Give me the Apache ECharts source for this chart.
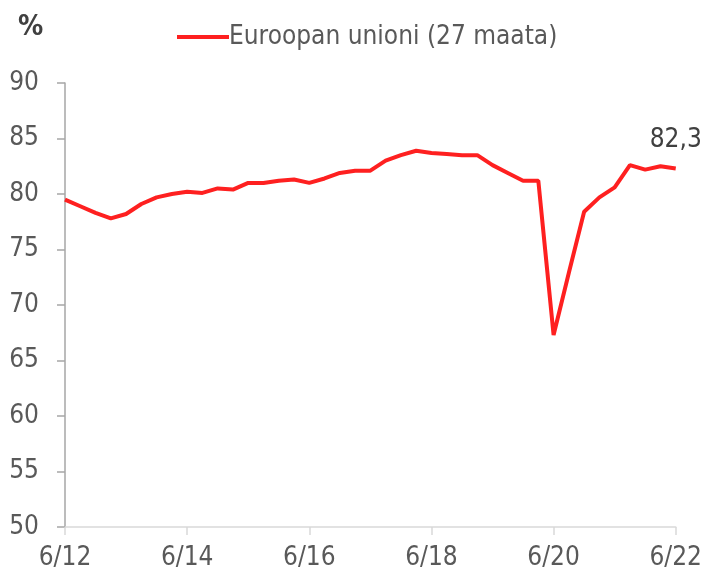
<!DOCTYPE html>
<html>
<head>
<meta charset="utf-8">
<script src="https://cdn.jsdelivr.net/npm/echarts@6/dist/echarts.min.js"></script>
<style>html,body{margin:0;padding:0;background:#fff}#c{width:705px;height:575px}</style>
</head>
<body>
<div id="c"></div>
<script>
var categories = [
 '6/12','9/12','12/12','3/13','6/13','9/13','12/13','3/14','6/14','9/14','12/14',
 '3/15','6/15','9/15','12/15','3/16','6/16','9/16','12/16','3/17','6/17','9/17','12/17',
 '3/18','6/18','9/18','12/18','3/19','6/19','9/19','12/19','3/20','6/20','9/20','12/20',
 '3/21','6/21','9/21','12/21','3/22','6/22'
];
var euValues = [
 79.5,78.9,78.3,77.8,78.2,79.1,79.7,80.0,80.2,80.1,80.5,
 80.4,81.0,81.0,81.2,81.3,81.0,81.4,81.9,82.1,82.1,83.0,83.5,
 83.9,83.7,83.6,83.5,83.5,82.6,81.9,81.2,81.2,67.3,72.9,78.4,
 79.7,80.6,82.6,82.2,82.5,82.3
];
var seriesName = 'Euroopan unioni (27 maata)';
var lastLabel = '82,3';
var yTicks = {min: 50, max: 90, interval: 5};

var FONT = "'DejaVu Sans Condensed', 'Liberation Sans', sans-serif";
var FS = 26;
var chart = echarts.init(document.getElementById('c'), null, {renderer: 'canvas'});
var data = euValues.map(function (v, i) {
  if (i === euValues.length - 1) {
    return {value: v, label: {show: true, position: 'top', distance: 15,
      formatter: function () { return lastLabel; },
      color: '#404040', fontSize: FS, fontFamily: FONT}};
  }
  return v;
});
chart.setOption({
  animation: false,
  textStyle: {fontFamily: FONT},
  title: {text: '%', left: 13, top: 9,
    textStyle: {fontSize: 28, fontWeight: 'bold', color: '#404040', fontFamily: FONT}},
  legend: {
    left: 172, top: 19,
    icon: 'rect', itemWidth: 52, itemHeight: 4, itemGap: 5,
    textStyle: {fontSize: FS, color: '#595959', fontFamily: FONT, padding: [0,0,0,-5]},
    data: [seriesName]
  },
  grid: {left: 65, right: 29, top: 83, bottom: 48, containLabel: false},
  xAxis: {
    type: 'category', data: categories, boundaryGap: false,
    axisLine: {lineStyle: {color: '#d9d9d9', width: 1.5}},
    axisTick: {show: true, interval: 7, length: 8, lineStyle: {color: '#d9d9d9', width: 1.5}},
    axisLabel: {interval: 7, margin: 18, fontSize: FS, color: '#595959', fontFamily: FONT},
    splitLine: {show: false}
  },
  yAxis: {
    type: 'value', min: yTicks.min, max: yTicks.max, interval: yTicks.interval,
    axisLine: {show: true, lineStyle: {color: '#a6a6a6', width: 1.5}},
    axisTick: {show: true, length: 8, lineStyle: {color: '#a6a6a6', width: 1.5}},
    axisLabel: {margin: 26, fontSize: FS, color: '#595959', fontFamily: FONT},
    splitLine: {show: false}
  },
  series: [{
    name: seriesName, type: 'line', data: data,
    symbol: 'circle', symbolSize: 0, showSymbol: true, smooth: false,
    lineStyle: {color: '#fe2020', width: 4},
    itemStyle: {color: '#fe2020'},
    emphasis: {disabled: true}
  }]
});
</script>
</body>
</html>
